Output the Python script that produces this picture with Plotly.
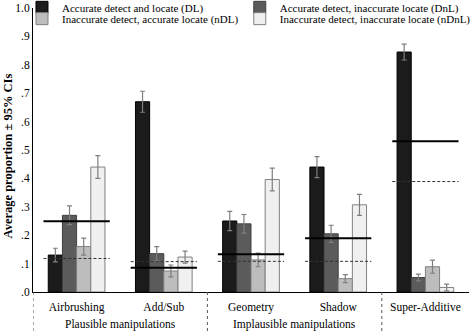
import plotly.graph_objects as go

categories = ["Airbrushing", "Add/Sub", "Geometry", "Shadow", "Super-Additive"]
series_names = [
    "Accurate detect and locate (DL)",
    "Accurate detect, inaccurate locate (DnL)",
    "Inaccurate detect, accurate locate (nDL)",
    "Inaccurate detect, inaccurate locate (nDnL)",
]
dl = [0.13, 0.67, 0.25, 0.44, 0.845]
dnl = [0.27, 0.135, 0.24, 0.205, 0.051]
ndl = [0.16, 0.074, 0.113, 0.047, 0.089]
ndnl = [0.44, 0.123, 0.396, 0.307, 0.016]
dl_ci = [0.024, 0.037, 0.034, 0.037, 0.028]
dnl_ci = [0.033, 0.025, 0.033, 0.03, 0.012]
ndl_ci = [0.03, 0.021, 0.024, 0.014, 0.023]
ndnl_ci = [0.04, 0.021, 0.04, 0.037, 0.012]
solid_ref = [0.249, 0.085, 0.133, 0.189, 0.531]
dashed_ref = [0.118, 0.107, 0.108, 0.108, 0.389]
group_labels = ["Plausible manipulations", "Implausible manipulations"]
group_centers = [0.5, 2.5]
separators = [-0.5, 1.5, 3.5]
ytick_vals = [0, 0.1, 0.2, 0.3, 0.4, 0.5, 0.6, 0.7, 0.8, 0.9, 1.0]
ytick_text = [".0", ".1", ".2", ".3", ".4", ".5", ".6", ".7", ".8", ".9", "1.0"]
y_title = "Average proportion ± 95% CIs"

FONT = "Liberation Serif, Times New Roman, serif"
fills = ["#1b1b1b", "#5b5b5b", "#bdbdbd", "#f0f0f0"]
edges = ["#000000", "#404040", "#808080", "#808080"]
values = [dl, dnl, ndl, ndnl]
cis = [dl_ci, dnl_ci, ndl_ci, ndnl_ci]
legend_ids = ["legend", "legend2", "legend3", "legend4"]

x = list(range(len(categories)))
fig = go.Figure()
for k in range(4):
    fig.add_trace(go.Bar(
        x=x, y=values[k], name=series_names[k],
        marker=dict(color=fills[k], line=dict(color=edges[k], width=1)),
        error_y=dict(type="data", array=cis[k], color="#7f7f7f", thickness=1.2, width=2.5),
        legend=legend_ids[k],
    ))

shapes = []
for i in x:
    shapes.append(dict(type="line", xref="x", yref="y", x0=i - 0.38, x1=i + 0.38,
                       y0=solid_ref[i], y1=solid_ref[i], line=dict(color="#000000", width=2)))
    shapes.append(dict(type="line", xref="x", yref="y", x0=i - 0.38, x1=i + 0.38,
                       y0=dashed_ref[i], y1=dashed_ref[i],
                       line=dict(color="#333333", width=1, dash="3px,2px")))
for s in separators:
    shapes.append(dict(type="line", xref="x", yref="paper", x0=s, x1=s, y0=0, y1=-0.15,
                       line=dict(color="#555555", width=1, dash="dot")))

annotations = [dict(text=g, x=c, xref="x", y=-0.115, yref="paper", showarrow=False,
                    font=dict(family=FONT, size=11.5, color="#000"), yanchor="middle")
               for g, c in zip(group_labels, group_centers)]
annotations.append(dict(text="<b>" + y_title + "</b>", textangle=-90, showarrow=False,
                        xref="paper", yref="paper", x=-0.0585, y=0.479,
                        xanchor="center", yanchor="middle",
                        font=dict(family=FONT, size=12.5, color="#000")))

leg_common = dict(font=dict(family=FONT, size=11, color="#000"), bgcolor="rgba(0,0,0,0)",
                  xanchor="left", yanchor="middle", itemwidth=30,
                  xref="container", yref="container")
legend_pos = [(0.0466, 0.978), (0.508, 0.978), (0.0466, 0.944), (0.508, 0.944)]

layout_legends = {}
for lid, (lx, ly) in zip(legend_ids, legend_pos):
    layout_legends[lid] = dict(x=lx, y=ly, **leg_common)

fig.update_layout(
    width=472, height=333,
    margin=dict(l=33, r=3, t=8, b=41, autoexpand=False),
    paper_bgcolor="white", plot_bgcolor="white",
    barmode="group", bargap=0.35, bargroupgap=0,
    font=dict(family=FONT, size=11.5, color="#000"),
    shapes=shapes, annotations=annotations,
    showlegend=True,
    xaxis=dict(range=[-0.5, 4.5], tickvals=x, ticktext=categories, showline=True,
               linecolor="#000", linewidth=1, ticks="", showgrid=False, zeroline=False,
               tickfont=dict(family=FONT, size=11.5), automargin=False,
               ticklabelstandoff=4),
    yaxis=dict(range=[0, 1.0001], tickvals=ytick_vals, ticktext=ytick_text, showline=True,
               linecolor="#000", linewidth=1, ticks="", showgrid=False, zeroline=False,
               tickfont=dict(family=FONT, size=11.5), automargin=True,
               ticklabeloverflow="allow"),
    **layout_legends,
)
fig.write_html("out.html", config={"displayModeBar": False},
               post_script="document.body.style.margin='0';document.body.style.overflow='hidden';")
